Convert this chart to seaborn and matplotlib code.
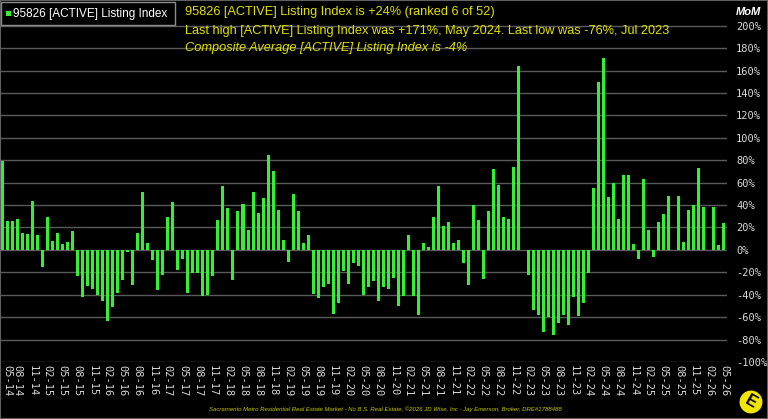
import pandas as pd
import numpy as np
import matplotlib
matplotlib.use('Agg')
import matplotlib.pyplot as plt
from matplotlib.patches import Rectangle
import seaborn as sns

# month-over-month change of the active listing index, 05-14 .. 05-26
months = pd.date_range('2014-05-01', periods=145, freq='MS').strftime('%m-%y').tolist()
mom = [79, 26, 26, 28, 15, 14, 44, 13, -15, 29, 8, 15, 5, 7, 17, -23, -42, -32, -35, -40,
       -46, -63, -51, -38, -27, -2, -31, 15, 52, 6,
       -9, -36, -22, 29, 43, -18, -8, -38, -21, -21, -41, -40, -23, 27, 57, 37, -27, 35, 41,
       18, 52, 33, 46, 85, 70, 36, 9, -11, 50,
       35, 6, 13, -39, -43, -33, -30, -57, -47, -19, -30, -12, -14, -40, -33, -28, -46, -33,
       -35, -25, -50, -41, 13, -41, -58, 6, 3, 29, 57,
       21, 25, 6, 9, -12, -31, 40, 27, -26, 35, 72, 58, 29, 28, 74, 164, 0, -22, -54, -58,
       -73, -60, -76, -65, -58, -67, -42, -59,
       -47, -21, 55, 150, 171, 47, 60, 28, 67, 67, 5, -8, 63, 18, -6, 25, 32, 48, 0, 48, 7,
       36, 40, 73, 38, 0, 38, 4, 24]
yticks = list(range(-100, 201, 20))

title_1 = '95826 [ACTIVE] Listing Index is +24% (ranked 6 of 52)'
title_2 = 'Last high [ACTIVE] Listing Index was +171%, May 2024. Last low was -76%, Jul 2023'
title_3 = 'Composite Average [ACTIVE] Listing Index is -4%'
legend_label = '95826 [ACTIVE] Listing Index'
footer = ('Sacramento Metro Residential Real Estate Market - No B.S. Real Estate, '
          '\u00a92026 JD Wise, Inc - Jay Emerson, Broker, DRE#1788488')

df = pd.DataFrame({'month': months, 'mom': mom})

sns.set_theme(style='dark', rc={'axes.facecolor': 'black', 'figure.facecolor': 'black',
                                'axes.edgecolor': '#707070'})
plt.rcParams['font.family'] = ['Liberation Sans', 'DejaVu Sans']

W, H = 768, 419
fig = plt.figure(figsize=(W / 100, H / 100), dpi=100)

def fx(px):
    return px / W

def fy(py):
    return 1 - py / H

ax = fig.add_axes([0, fy(362), fx(727), fy(5) - fy(362)])
sns.barplot(data=df, x='month', y='mom', color='#33f033', saturation=1, width=0.6,
            linewidth=0, ax=ax)

ax.set_xlim(-0.5, 144.6)
ax.set_ylim(-100, 218.5)
ax.set_yticks(yticks)
ax.set_yticklabels([f'{v}%' for v in yticks], family='DejaVu Sans Mono', fontsize=7.5,
                   color='#d8d8d8')
ax.yaxis.tick_right()
ax.tick_params(axis='y', length=0, pad=6.5)
ax.set_xticks(range(0, len(months), 3))
ax.set_xticklabels(months[::3], rotation=270, family='DejaVu Sans Mono', fontsize=7.5,
                   color='#d8d8d8')
ax.get_xticklabels()[0].set_horizontalalignment('left')
ax.tick_params(axis='x', length=0, pad=2)
ax.set_xlabel('')
ax.set_ylabel('')
ax.grid(axis='y', color='#5a5a5a', linewidth=1.0)
ax.grid(axis='x', visible=False)
ax.set_axisbelow(True)
for side in ['top', 'right', 'bottom']:
    ax.spines[side].set_visible(False)
ax.spines['left'].set_color('#707070')

# legend box
fig.add_artist(Rectangle((fx(1), fy(25)), fx(174), fy(2) - fy(25), transform=fig.transFigure,
                         facecolor='black', edgecolor='#8a8a8a', linewidth=1))
fig.add_artist(Rectangle((fx(6), fy(16)), fx(5), fy(11) - fy(16), transform=fig.transFigure,
                         facecolor='#33f033', edgecolor='none'))
fig.text(fx(13), fy(13.5), legend_label, color='white', fontsize=8.5, va='center')

yellow = '#e2e200'
fig.text(fx(185), fy(12), title_1, color=yellow, fontsize=9.2, va='center')
fig.text(fx(185), fy(31), title_2, color=yellow, fontsize=9.2, va='center')
fig.text(fx(185), fy(48), title_3, color=yellow, fontsize=9.2, va='center', style='italic')
fig.text(fx(748), fy(12), 'MoM', color='white', fontsize=8, va='center', ha='center',
         weight='bold', style='italic')

fig.text(fx(385), fy(409), footer, color='#c8c800', fontsize=4.3, va='center', ha='center',
         style='italic')

# logo
fig.text(fx(751), fy(402), 'E', color='black', fontsize=12, weight='bold', ha='center',
         va='center', rotation=-30,
         bbox=dict(boxstyle='circle,pad=0.3', facecolor='#f2e600', edgecolor='black',
                   linewidth=1.5))

fig.add_artist(Rectangle((0, 0), 1, 1, transform=fig.transFigure, fill=False,
                         edgecolor='#606060', linewidth=1.5))

fig.savefig('out.png', dpi=100, facecolor='black')
